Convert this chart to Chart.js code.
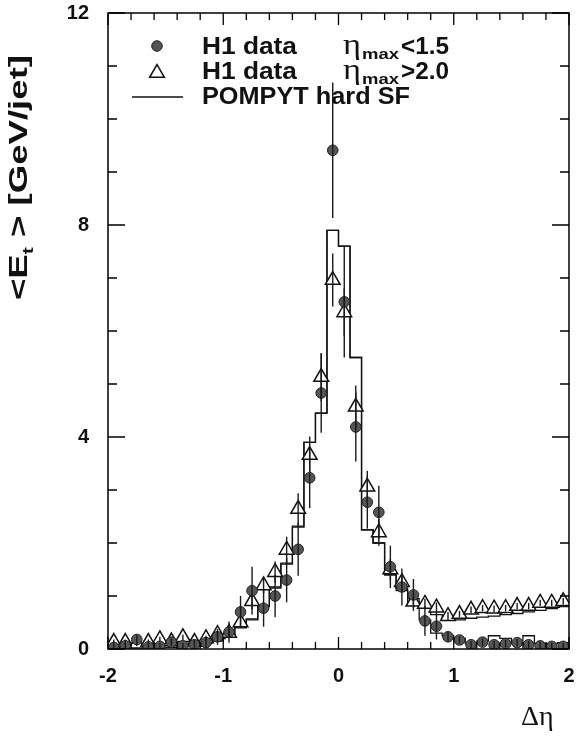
<!DOCTYPE html>
<html>
<head>
<meta charset="utf-8">
<script src="https://cdn.jsdelivr.net/npm/chart.js@4/dist/chart.umd.min.js"></script>
<style>
  html, body { margin: 0; padding: 0; background: #fff; }
  #wrap { width: 579px; height: 751px; position: relative; }
</style>
</head>
<body>
<div id="wrap"><canvas id="chart"></canvas></div>
<script>
// delta eta bins, width 0.1
const binCenters = [-1.95, -1.85, -1.75, -1.65, -1.55, -1.45, -1.35, -1.25, -1.15, -1.05,
  -0.95, -0.85, -0.75, -0.65, -0.55, -0.45, -0.35, -0.25, -0.15, -0.05,
  0.05, 0.15, 0.25, 0.35, 0.45, 0.55, 0.65, 0.75, 0.85, 0.95,
  1.05, 1.15, 1.25, 1.35, 1.45, 1.55, 1.65, 1.75, 1.85, 1.95];
const binEdges = [-2.0, -1.9, -1.8, -1.7, -1.6, -1.5, -1.4, -1.3, -1.2, -1.1, -1.0,
  -0.9, -0.8, -0.7, -0.6, -0.5, -0.4, -0.3, -0.2, -0.1, 0.0,
  0.1, 0.2, 0.3, 0.4, 0.5, 0.6, 0.7, 0.8, 0.9, 1.0,
  1.1, 1.2, 1.3, 1.4, 1.5, 1.6, 1.7, 1.8, 1.9, 2.0];

// H1 data, eta_max < 1.5 (filled circles)
const h1Low = [0.03, 0.06, 0.18, 0.04, 0.05, 0.13, 0.06, 0.08, 0.12, 0.23,
  0.32, 0.70, 1.10, 0.77, 1.00, 1.30, 1.88, 3.23, 4.83, 9.41,
  6.55, 4.19, 2.77, 2.58, 1.55, 1.17, 1.02, 0.53, 0.43, 0.23,
  0.17, 0.08, 0.13, 0.08, 0.10, 0.12, 0.08, 0.06, 0.05, 0.05];
const h1LowErr = [0.06, 0.06, 0.08, 0.06, 0.06, 0.07, 0.06, 0.07, 0.10, 0.15,
  0.20, 0.30, 0.45, 0.35, 0.40, 0.42, 0.50, 0.57, 0.75, 1.28,
  1.05, 0.65, 0.50, 0.50, 0.40, 0.35, 0.30, 0.28, 0.25, 0.10,
  0.07, 0.07, 0.07, 0.07, 0.07, 0.07, 0.07, 0.07, 0.07, 0.07];

// H1 data, eta_max > 2.0 (open triangles)
const h1High = [0.13, 0.13, 0.10, 0.13, 0.18, 0.14, 0.22, 0.13, 0.20, 0.28,
  0.30, 0.50, 0.90, 1.20, 1.45, 1.87, 2.64, 3.66, 5.13, 6.96,
  6.35, 4.57, 3.06, 2.20, 1.50, 1.26, 0.89, 0.85, 0.78, 0.62,
  0.66, 0.74, 0.77, 0.76, 0.77, 0.81, 0.81, 0.87, 0.87, 0.90];
const h1HighErr = [0.05, 0.05, 0.05, 0.05, 0.05, 0.05, 0.05, 0.05, 0.05, 0.06,
  0.08, 0.10, 0.15, 0.15, 0.20, 0.25, 0.30, 0.35, 0.45, 0.50,
  0.45, 0.40, 0.30, 0.25, 0.20, 0.15, 0.12, 0.10, 0.10, 0.08,
  0.06, 0.06, 0.06, 0.06, 0.06, 0.06, 0.06, 0.06, 0.06, 0.06];

// POMPYT hard SF, per bin
const pompytLow = [0.03, 0.03, 0.03, 0.03, 0.03, 0.03, 0.05, 0.06, 0.10, 0.15,
  0.25, 0.40, 0.55, 0.80, 1.15, 1.60, 2.30, 3.90, 4.45, 7.90,
  7.60, 5.50, 2.25, 2.00, 1.40, 1.10, 0.85, 0.55, 0.30, 0.25,
  0.20, 0.10, 0.15, 0.25, 0.20, 0.10, 0.25, 0.10, 0.10, 0.12];
const pompytHigh = [0.06, 0.06, 0.07, 0.07, 0.08, 0.08, 0.09, 0.10, 0.12, 0.17,
  0.27, 0.42, 0.57, 0.82, 1.17, 1.62, 2.32, 3.90, 4.45, 7.90,
  7.60, 5.50, 2.25, 2.00, 1.40, 1.15, 0.95, 0.80, 0.65, 0.55,
  0.55, 0.58, 0.60, 0.62, 0.65, 0.67, 0.70, 0.73, 0.76, 0.80];

const xRange = [-2, 2];
const yRange = [0, 12];

function histPoints(vals) {
  const pts = vals.map((v, i) => ({ x: binEdges[i], y: v }));
  pts.push({ x: binEdges[binEdges.length - 1], y: vals[vals.length - 1] });
  return pts;
}

function points(vals) {
  return vals.map((v, i) => ({ x: binCenters[i], y: v }));
}

const circleStyle = { pointStyle: 'circle', radius: 5.3, fill: '#555555', stroke: '#222222', width: 1 };
const triStyle = { pointStyle: 'triangle', radius: 8.5, fill: '#ffffff', stroke: '#111111', width: 1.5 };

// text with a subscript, drawn left to right from x
function richText(ctx, parts, x, y) {
  let cx = x;
  parts.forEach(p => {
    ctx.font = p.font;
    ctx.fillText(p.t, cx, y + (p.dy || 0));
    cx += ctx.measureText(p.t).width;
  });
  return cx - x;
}

function fitText(ctx, text, x, y, width) {
  const w = ctx.measureText(text).width;
  ctx.save();
  ctx.translate(x, y);
  ctx.scale(width / w, 1);
  ctx.fillText(text, 0, 0);
  ctx.restore();
}

const errorBars = {
  id: 'errorBars',
  afterDatasetsDraw(chart) {
    const { ctx, scales: { x, y } } = chart;
    ctx.save();
    ctx.strokeStyle = '#1a1a1a';
    ctx.lineWidth = 1.4;
    [[h1High, h1HighErr], [h1Low, h1LowErr]].forEach(([vals, errs]) => {
      vals.forEach((v, i) => {
        const px = x.getPixelForValue(binCenters[i]);
        ctx.beginPath();
        ctx.moveTo(px, y.getPixelForValue(Math.max(0, v - errs[i])));
        ctx.lineTo(px, y.getPixelForValue(v + errs[i]));
        ctx.stroke();
      });
    });
    ctx.restore();
  }
};

const frame = {
  id: 'frame',
  afterDraw(chart) {
    const { ctx, chartArea: a, scales: { x, y } } = chart;
    ctx.save();
    ctx.strokeStyle = '#000';
    ctx.lineWidth = 1.5;
    ctx.strokeRect(a.left, a.top, a.right - a.left, a.bottom - a.top);

    ctx.lineWidth = 1.3;
    ctx.beginPath();
    // x ticks every 0.2, long at integers
    for (let k = 0; k <= 20; k++) {
      const v = xRange[0] + k * 0.2;
      const px = x.getPixelForValue(v);
      const len = k % 5 === 0 ? 12 : 7;
      ctx.moveTo(px, a.bottom); ctx.lineTo(px, a.bottom - len);
      ctx.moveTo(px, a.top); ctx.lineTo(px, a.top + len);
    }
    // y ticks every 1, long every 4
    for (let v = yRange[0]; v <= yRange[1]; v++) {
      const py = y.getPixelForValue(v);
      const len = v % 4 === 0 ? 17 : 9;
      ctx.moveTo(a.left, py); ctx.lineTo(a.left + len, py);
      ctx.moveTo(a.right, py); ctx.lineTo(a.right - len, py);
    }
    ctx.stroke();

    // legend
    const helpers = Chart.helpers;
    ctx.fillStyle = circleStyle.fill; ctx.strokeStyle = circleStyle.stroke; ctx.lineWidth = circleStyle.width;
    helpers.drawPoint(ctx, { pointStyle: 'circle', radius: circleStyle.radius, borderWidth: 1 }, 157, 46);
    ctx.fillStyle = triStyle.fill; ctx.strokeStyle = triStyle.stroke; ctx.lineWidth = triStyle.width;
    helpers.drawPoint(ctx, { pointStyle: 'triangle', radius: triStyle.radius, borderWidth: 1.5 }, 157, 73);
    ctx.strokeStyle = '#111'; ctx.lineWidth = 1.3;
    ctx.beginPath(); ctx.moveTo(132, 97); ctx.lineTo(183, 97); ctx.stroke();

    ctx.fillStyle = '#111';
    ctx.textBaseline = 'middle';
    ctx.textAlign = 'left';
    ctx.font = 'bold 23px "Liberation Sans", Arial, sans-serif';
    fitText(ctx, 'H1 data', 202, 48, 95);
    fitText(ctx, 'H1 data', 202, 73, 95);
    fitText(ctx, 'POMPYT hard SF', 202, 98, 208);

    [['<1.5', 48], ['>2.0', 73]].forEach(([cut, ty]) => {
      ctx.font = '30px "Liberation Serif", "DejaVu Serif", serif';
      fitText(ctx, '\u03b7', 343, ty - 2, 18);
      ctx.font = 'bold 14px "Liberation Sans", Arial, sans-serif';
      fitText(ctx, 'max', 362, ty + 7, 37);
      ctx.font = 'bold 23px "Liberation Sans", Arial, sans-serif';
      fitText(ctx, cut, 401, ty, 48);
    });

    // x axis title
    ctx.font = '28px "Liberation Serif", "DejaVu Serif", serif';
    ctx.fillText('\u0394\u03b7', 521, 718);

    // y axis title, rotated
    ctx.save();
    ctx.translate(20, 300);
    ctx.rotate(-Math.PI / 2);
    const big = 'bold 26px "Liberation Sans Narrow", "Liberation Sans", Arial, sans-serif';
    const small = 'bold 15px "Liberation Sans Narrow", "Liberation Sans", Arial, sans-serif';
    const parts = [
      { t: '<E', font: big },
      { t: 't', font: small, dy: 9 },
      { t: ' > [GeV/jet]', font: big }
    ];
    let total = 0;
    parts.forEach(p => { ctx.font = p.font; total += ctx.measureText(p.t).width; });
    ctx.scale(245 / total, 1);
    richText(ctx, parts, 0, 0);
    ctx.restore();

    ctx.restore();
  }
};

new Chart(document.getElementById('chart'), {
  type: 'scatter',
  data: {
    datasets: [
      {
        label: 'POMPYT hard SF',
        type: 'line',
        data: histPoints(pompytHigh),
        stepped: true,
        borderColor: '#111',
        borderWidth: 1.3,
        pointRadius: 0,
        fill: false,
        order: 4
      },
      {
        label: 'POMPYT hard SF (low)',
        type: 'line',
        data: histPoints(pompytLow),
        stepped: true,
        borderColor: '#111',
        borderWidth: 1.3,
        pointRadius: 0,
        fill: false,
        order: 3
      },
      {
        label: 'H1 data  \u03b7max>2.0',
        data: points(h1High),
        pointStyle: triStyle.pointStyle,
        pointRadius: triStyle.radius,
        backgroundColor: triStyle.fill,
        borderColor: triStyle.stroke,
        borderWidth: triStyle.width,
        order: 2
      },
      {
        label: 'H1 data  \u03b7max<1.5',
        data: points(h1Low),
        pointStyle: circleStyle.pointStyle,
        pointRadius: circleStyle.radius,
        backgroundColor: circleStyle.fill,
        borderColor: circleStyle.stroke,
        borderWidth: circleStyle.width,
        order: 1
      }
    ]
  },
  options: {
    responsive: true,
    maintainAspectRatio: false,
    animation: false,
    layout: { padding: { left: 0, right: 6, top: 13, bottom: 0 } },
    plugins: { legend: { display: false }, tooltip: { enabled: false } },
    scales: {
      x: {
        type: 'linear',
        min: xRange[0],
        max: xRange[1],
        grid: { display: false, drawTicks: false },
        border: { display: false },
        afterFit: s => { s.height = 102; s.paddingLeft = 0; s.paddingRight = 0; },
        ticks: {
          stepSize: 1,
          padding: 15,
          color: '#111',
          font: { family: '"Liberation Sans", Arial, sans-serif', size: 20, weight: 'bold' }
        }
      },
      y: {
        min: yRange[0],
        max: yRange[1],
        grid: { display: false, drawTicks: false },
        border: { display: false },
        afterFit: s => { s.width = 108; s.paddingTop = 0; s.paddingBottom = 0; },
        ticks: {
          stepSize: 4,
          padding: 19,
          color: '#111',
          font: { family: '"Liberation Sans", Arial, sans-serif', size: 20, weight: 'bold' }
        }
      }
    }
  },
  plugins: [errorBars, frame]
});
</script>
</body>
</html>
